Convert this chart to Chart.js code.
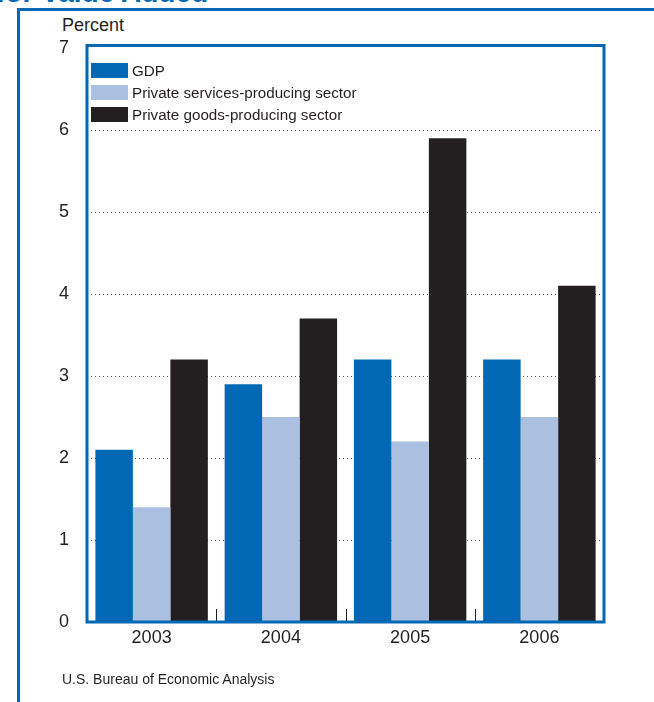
<!DOCTYPE html>
<html>
<head>
<meta charset="utf-8">
<script src="https://cdn.jsdelivr.net/npm/chart.js@4"></script>
<style>
  html, body { margin: 0; padding: 0; background: #fff; }
  #wrap { position: relative; width: 654px; height: 702px; overflow: hidden; font-family: "Liberation Sans", Arial, sans-serif; }
  #title { position: absolute; left: -4px; top: -23px; color: #0068b4; font-weight: bold; font-size: 28px; white-space: nowrap; }
  #outer { position: absolute; left: 17px; top: 8px; width: 700px; height: 800px; border-left: 3px solid #0068b4; border-top: 3px solid #0068b4; }
  #unit { position: absolute; left: 62px; top: 15px; font-size: 18px; color: #231f20; }
  #source { position: absolute; left: 62px; top: 671px; font-size: 14px; color: #231f20; }
  #legend { position: absolute; left: 91px; top: 59px; font-size: 15.2px; color: #231f20; }
  #legend div { height: 22px; display: flex; align-items: center; }
  #legend span.box { display: inline-block; width: 37px; height: 15px; margin-right: 4px; }
  canvas { position: absolute; left: 0; top: 0; }
</style>
</head>
<body>
<div id="wrap">
  <div id="title">for Value Added</div>
  <div id="outer"></div>
  <div id="unit">Percent</div>
  <canvas id="chart" width="654" height="702"></canvas>
  <div id="legend"></div>
  <div id="source">U.S. Bureau of Economic Analysis</div>
</div>
<script>
const years = ["2003", "2004", "2005", "2006"];
const gdp = [2.1, 2.9, 3.2, 3.2];
const services = [1.4, 2.5, 2.2, 2.5];
const goods = [3.2, 3.7, 5.9, 4.1];
const seriesNames = ["GDP", "Private services-producing sector", "Private goods-producing sector"];
const seriesColors = ["#0068b4", "#abbfe0", "#231f20"];

const frameBlue = "#0068b4";

// blue frame round the plot and small tick marks between the years
const framePlugin = {
  id: "frame",
  afterDatasetsDraw(chart) {
    const ctx = chart.ctx;
    const a = chart.chartArea;
    const x = chart.scales.x;
    ctx.save();
    ctx.strokeStyle = "#231f20";
    ctx.lineWidth = 1;
    for (let i = 0; i < years.length - 1; i++) {
      const px = Math.round((x.getPixelForValue(i) + x.getPixelForValue(i + 1)) / 2) + 0.5;
      ctx.beginPath();
      ctx.moveTo(px, a.bottom - 13);
      ctx.lineTo(px, a.bottom);
      ctx.stroke();
    }
    ctx.strokeStyle = frameBlue;
    ctx.lineWidth = 3;
    ctx.strokeRect(a.left, a.top - 2.5, a.right - a.left, a.bottom - a.top + 2.5);
    ctx.restore();
  }
};

const config = {
  type: "bar",
  data: {
    labels: years,
    datasets: [
      { label: seriesNames[0], data: gdp, backgroundColor: seriesColors[0] },
      { label: seriesNames[1], data: services, backgroundColor: seriesColors[1] },
      { label: seriesNames[2], data: goods, backgroundColor: seriesColors[2] },
    ],
  },
  options: {
    responsive: false,
    animation: false,
    layout: { padding: { left: 0, top: 48, right: 50, bottom: 50 } },
    datasets: { bar: { categoryPercentage: 0.87, barPercentage: 1.0 } },
    scales: {
      x: {
        grid: { display: false },
        border: { display: false },
        ticks: { color: "#231f20", font: { family: "Liberation Sans", size: 18 }, padding: -3 },
        afterFit(scale) { scale.height = 30; },
      },
      y: {
        min: 0,
        max: 7,
        border: { display: false, dash: [1, 3] },
        ticks: { stepSize: 1, color: "#231f20", font: { family: "Liberation Sans", size: 18 }, padding: 18 },
        grid: {
          drawTicks: false,
          color: (c) => (c.tick && (c.tick.value === 0 || c.tick.value === 7)) ? "rgba(0,0,0,0)" : "#555",
          lineWidth: 1,
        },
        afterFit(scale) { scale.width = 87; },
      },
    },
    plugins: {
      legend: { display: false },
      tooltip: { enabled: false },
    },
  },
  plugins: [framePlugin],
};

const chart = new Chart(document.getElementById("chart"), config);

const legend = document.getElementById("legend");
seriesNames.forEach((name, i) => {
  const row = document.createElement("div");
  row.innerHTML = '<span class="box" style="background:' + seriesColors[i] + '"></span>' + name;
  legend.appendChild(row);
});
</script>
</body>
</html>
